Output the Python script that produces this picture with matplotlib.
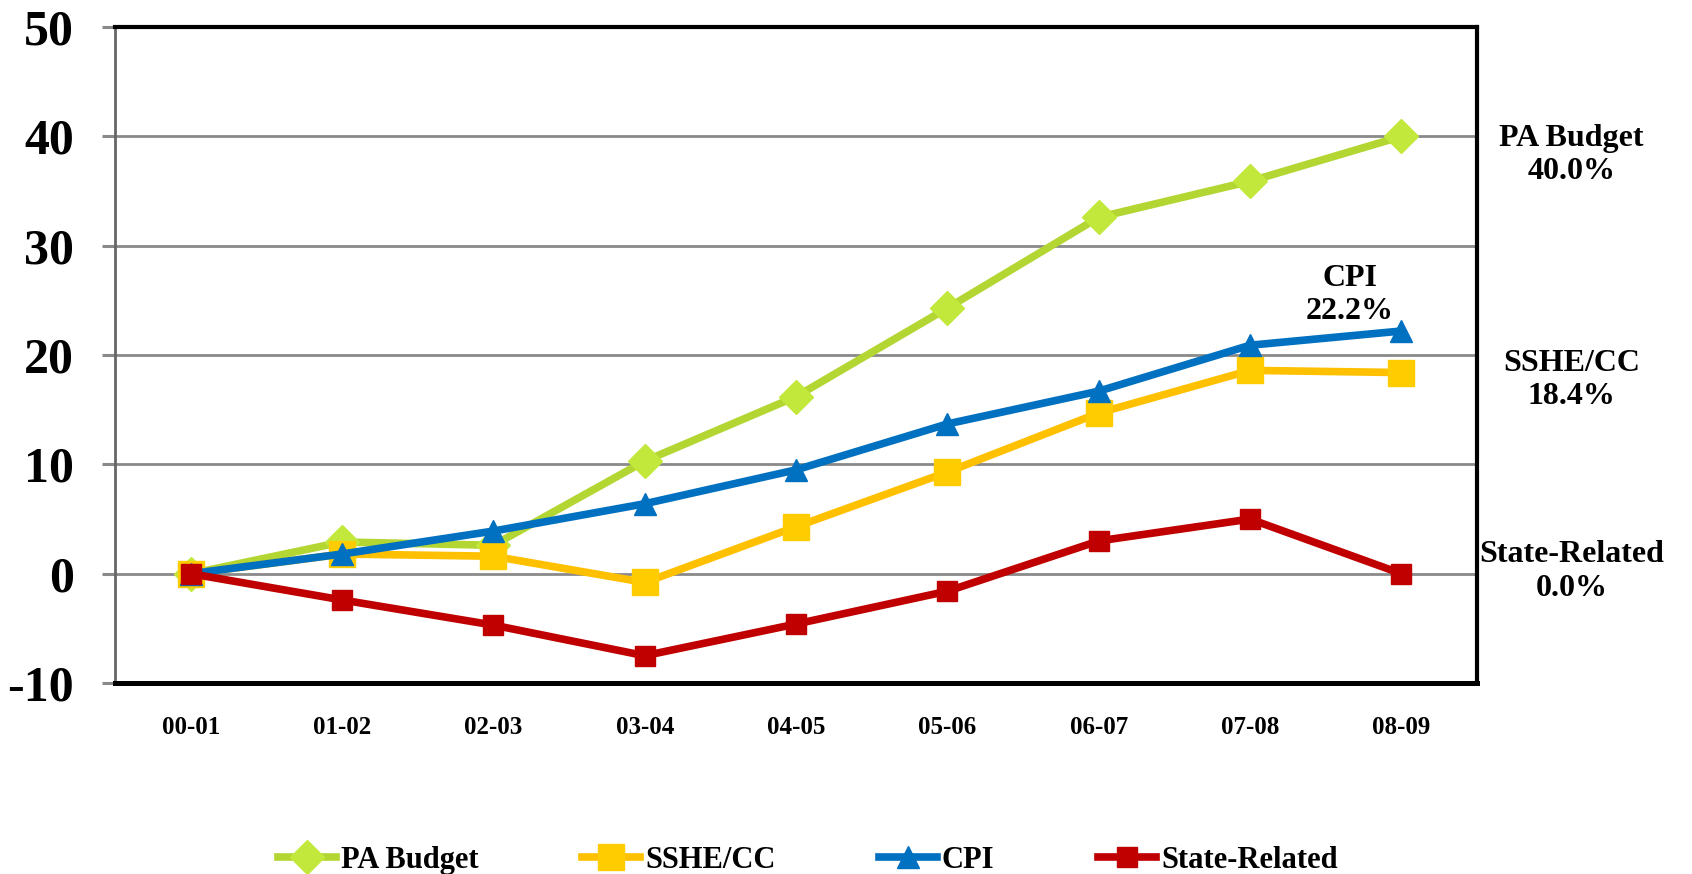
import matplotlib
matplotlib.use("Agg")
import matplotlib.pyplot as plt
import numpy as np

plt.rcParams['font.family'] = ['Liberation Serif', 'DejaVu Serif']
plt.rcParams['font.weight'] = 'bold'
plt.rcParams['axes.unicode_minus'] = False

years = ['00-01', '01-02', '02-03', '03-04', '04-05', '05-06', '06-07', '07-08', '08-09']
pa_budget = [0, 2.9, 2.6, 10.3, 16.2, 24.3, 32.6, 35.9, 40.0]
sshe_cc = [0, 1.8, 1.6, -0.8, 4.3, 9.3, 14.7, 18.6, 18.4]
cpi = [0, 1.8, 3.9, 6.4, 9.5, 13.7, 16.7, 20.9, 22.2]
state_related = [0, -2.4, -4.7, -7.5, -4.6, -1.6, 3.0, 5.0, 0.0]

yticks = [-10, 0, 10, 20, 30, 40, 50]

# name, values, line colour, marker colour, marker, marker size
series = [
    ('PA Budget', pa_budget, '#b3d633', '#c3e83c', 'D', 17),
    ('SSHE/CC', sshe_cc, '#ffc000', '#ffcc00', 's', 19),
    ('CPI', cpi, '#0070c0', '#0070c0', '^', 16),
    ('State-Related', state_related, '#c00000', '#c00000', 's', 15),
]

fig = plt.figure(figsize=(16.92, 8.74), dpi=100)
ax = fig.add_axes([0.068, 0.2185, 0.805, 0.7505])

x = np.arange(len(years))
for name, vals, lc, mc, mk, ms in series:
    ax.plot(x, vals, color=lc, lw=5.5, marker=mk, markersize=ms,
            markerfacecolor=mc, markeredgecolor=mc, label=name, zorder=3)

ax.set_xlim(-0.5, len(years) - 0.5)
ax.set_ylim(-10, 50)
ax.set_yticks(yticks)
ax.set_xticks(x)
ax.set_xticklabels(years)
ax.yaxis.grid(True, color='#8a8a8a', lw=2)
ax.set_axisbelow(True)

ax.tick_params(axis='y', labelsize=36, length=9.5, width=2.2, color='#8a8a8a', pad=20)
ax.tick_params(axis='x', labelsize=18, length=0, pad=24)

for side, lw, col in [('top', 3, 'black'), ('right', 3, 'black'),
                      ('bottom', 3.6, 'black'), ('left', 2, '#666666')]:
    ax.spines[side].set_linewidth(lw)
    ax.spines[side].set_color(col)

# end labels on the right
label_shift = {'PA Budget': -1.7, 'SSHE/CC': -0.7, 'State-Related': 0.2}
for name, vals in [('PA Budget', pa_budget), ('SSHE/CC', sshe_cc), ('State-Related', state_related)]:
    ax.text(9.125, vals[-1] + label_shift[name], f'{name}\n{vals[-1]:.1f}%', ha='center',
            va='center', fontsize=23, fontweight='bold', clip_on=False, linespacing=1.2)
ax.text(7.66, cpi[-1] + 3.3, f'CPI\n{cpi[-1]:.1f}%', ha='center', va='center',
        fontsize=23, fontweight='bold', linespacing=1.2)

leg = fig.legend(loc='center', bbox_to_anchor=(0.4775, 0.016), ncol=4, frameon=False,
                 handlelength=1.9, handletextpad=0.15, columnspacing=3.4,
                 prop={'weight': 'bold', 'size': 22})

fig.savefig('out.png', dpi=100)
